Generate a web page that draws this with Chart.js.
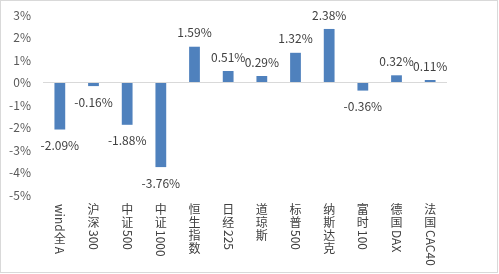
<!DOCTYPE html>
<html>
<head>
<meta charset="utf-8">
<script src="https://cdn.jsdelivr.net/npm/chart.js@4/dist/chart.umd.min.js"></script>
<style>
html,body{margin:0;padding:0;background:#fff;}
canvas{display:block;}
</style>
</head>
<body>
<canvas id="c" width="499" height="274"></canvas>
<script>
const categories = ['wind全A','沪深300','中证500','中证1000','恒生指数','日经225','道琼斯','标普500','纳斯达克','富时100','德国DAX','法国CAC40'];
const changes = [-2.09,-0.16,-1.88,-3.76,1.59,0.51,0.29,1.32,2.38,-0.36,0.32,0.11];
const yTicks = [3,2,1,0,-1,-2,-3,-4,-5];

const FONT = '"Noto Sans CJK SC", "Noto Sans", sans-serif';
Chart.defaults.font.family = FONT;

const framePlugin = {
  id: 'frame',
  beforeDraw(chart) {
    const ctx = chart.ctx;
    ctx.save();
    ctx.fillStyle = '#fff';
    ctx.fillRect(0, 0, chart.width, chart.height);
    ctx.strokeStyle = '#D9D9D9';
    ctx.lineWidth = 1;
    ctx.strokeRect(0.5, 0.5, chart.width - 2, chart.height - 2);
    ctx.restore();
  }
};

const dataLabelPlugin = {
  id: 'dlabels',
  afterDatasetsDraw(chart) {
    const ctx = chart.ctx;
    const meta = chart.getDatasetMeta(0);
    ctx.save();
    ctx.font = '12px ' + FONT;
    ctx.fillStyle = '#404040';
    ctx.textAlign = 'center';
    ctx.textBaseline = 'middle';
    meta.data.forEach((bar, i) => {
      const v = changes[i];
      const y = v >= 0 ? bar.y - 14 : bar.y + 16;
      ctx.fillText(v.toFixed(2) + '%', bar.x, y);
    });
    ctx.restore();
  }
};

function isCJK(ch) {
  return /[\u3000-\u9fff\uff00-\uffef]/.test(ch);
}

const verticalLabelPlugin = {
  id: 'vlabels',
  afterDraw(chart) {
    const ctx = chart.ctx;
    const xs = chart.scales.x;
    const size = 12;
    ctx.save();
    ctx.font = size + 'px ' + FONT;
    ctx.fillStyle = '#404040';
    categories.forEach((label, i) => {
      const x = xs.getPixelForValue(i);
      let y = 203;
      const runs = [];
      let cur = '';
      for (const ch of label) {
        if (isCJK(ch)) {
          if (cur) { runs.push({t: cur, cjk: false}); cur = ''; }
          runs.push({t: ch, cjk: true});
        } else cur += ch;
      }
      if (cur) runs.push({t: cur, cjk: false});
      runs.forEach(r => {
        if (r.cjk) {
          ctx.textAlign = 'center';
          ctx.textBaseline = 'top';
          ctx.fillText(r.t, x, y);
          y += size + 1;
        } else {
          const w = ctx.measureText(r.t).width;
          ctx.save();
          ctx.translate(x, y + 1);
          ctx.rotate(Math.PI / 2);
          ctx.textAlign = 'left';
          ctx.textBaseline = 'middle';
          ctx.fillText(r.t, 0, 0);
          ctx.restore();
          y += w + 2;
        }
      });
    });
    ctx.restore();
  }
};

new Chart(document.getElementById('c'), {
  type: 'bar',
  data: {
    labels: categories,
    datasets: [{
      data: changes,
      backgroundColor: '#4F81BD',
      borderWidth: 0,
      barPercentage: 0.32,
      categoryPercentage: 1
    }]
  },
  options: {
    responsive: false,
    animation: false,
    layout: { padding: { top: 15, right: 52, left: 0, bottom: 0 } },
    plugins: { legend: { display: false }, tooltip: { enabled: false } },
    scales: {
      x: {
        grid: { display: false },
        border: { display: false },
        ticks: { display: false },
        afterFit(s) { s.height = 79; s.paddingLeft = 0; s.paddingRight = 0; }
      },
      y: {
        min: -5,
        max: 3,
        afterBuildTicks(s) { s.ticks = yTicks.map(v => ({ value: v })); },
        ticks: {
          color: '#595959',
          font: { size: 12 },
          padding: 12,
          callback: v => v + '%'
        },
        grid: {
          drawTicks: false,
          color: c => (c.tick && c.tick.value === 0) ? '#D9D9D9' : 'rgba(0,0,0,0)',
          lineWidth: 1
        },
        border: { display: false },
        afterFit(s) { s.width = 43; s.paddingTop = 0; s.paddingBottom = 0; }
      }
    }
  },
  plugins: [framePlugin, dataLabelPlugin, verticalLabelPlugin]
});
</script>
</body>
</html>
